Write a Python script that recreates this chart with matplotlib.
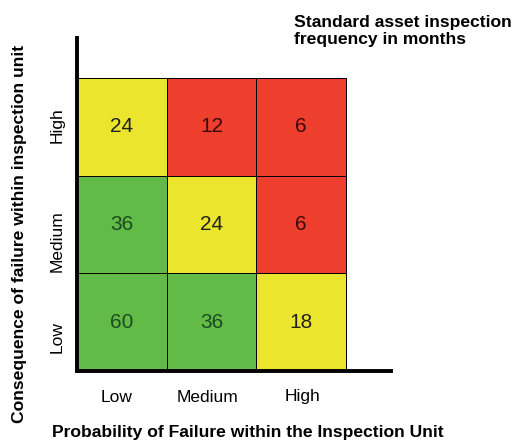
import numpy as np
import matplotlib.pyplot as plt
from matplotlib.colors import ListedColormap

plt.rcParams['font.family'] = ['Liberation Sans', 'DejaVu Sans']

# inspection frequency (months), rows = consequence Low/Medium/High
probability = ["Low", "Medium", "High"]
consequence = ["Low", "Medium", "High"]
months = np.array([[60, 36, 18],
                   [36, 24, 6],
                   [24, 12, 6]])
# risk band: 0 = low (green), 1 = medium (yellow), 2 = high (red)
band = np.array([[0, 0, 1],
                 [0, 1, 2],
                 [1, 2, 2]])

band_colors = ["#62bb47", "#ebe52e", "#ee3e2d"]
text_colors = ["#1d4a20", "#222222", "#3a0a08"]

fig = plt.figure(figsize=(5.13, 4.41), dpi=100)
W, H = 513, 441
# axes box in pixels: left 77, right 391, top 38, bottom 371
ax = fig.add_axes([77 / W, (H - 371) / H, (391 - 77) / W, (371 - 38) / H])

cell_w = (347 - 78) / 3
cell_h = (370 - 77) / 3
ax.set_xlim(0, (391 - 77) / cell_w)
ax.set_ylim(0, (371 - 38) / cell_h)

ax.pcolormesh(np.arange(4), np.arange(4), band, cmap=ListedColormap(band_colors),
              vmin=-0.5, vmax=2.5, edgecolors="black", linewidth=0.6)

for i in range(3):
    for j in range(3):
        ax.text(j + 0.5, i + 0.5, str(months[i, j]), ha="center", va="center",
                fontsize=15, color=text_colors[band[i, j]])

for s in ["top", "right"]:
    ax.spines[s].set_visible(False)
for s in ["left", "bottom"]:
    ax.spines[s].set_linewidth(2.8)
ax.set_xticks([])
ax.set_yticks([])

# category labels under / beside the grid
x_pos = [117, 207, 303]
for lab, px in zip(probability, x_pos):
    fig.text(px / W, 1 - 397 / H, lab, ha="center", va="center", fontsize=12.5)
y_pos = [337, 241, 125]
for lab, py in zip(consequence, y_pos):
    fig.text(57 / W, 1 - py / H, lab, ha="center", va="center", fontsize=12.5,
             rotation=90)

fig.text(248 / W, 1 - 432 / H, "Probability of Failure within the Inspection Unit",
         ha="center", va="center", fontsize=12.6, fontweight="bold")
fig.text(20 / W, 1 - 234 / H, "Consequence of failure within inspection unit",
         ha="center", va="center", fontsize=12.6, fontweight="bold", rotation=90)
fig.text(294 / W, 1 - 15 / H, "Standard asset inspection\nfrequency in months",
         ha="left", va="top", fontsize=12.6, fontweight="bold", linespacing=1.2)

fig.savefig("out.png", dpi=100)
